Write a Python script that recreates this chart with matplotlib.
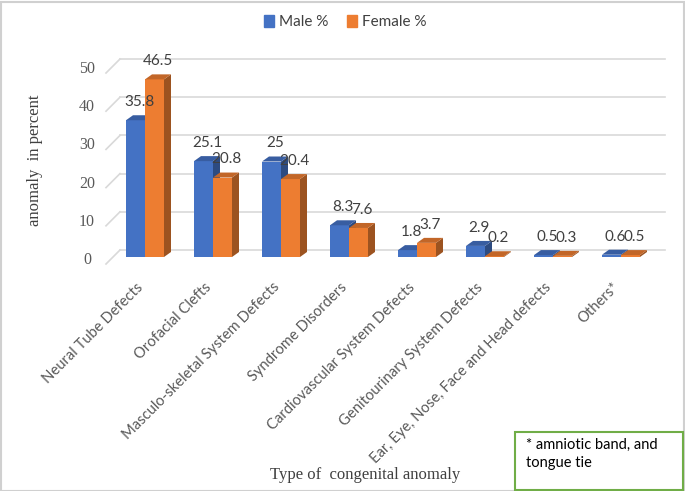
import matplotlib
matplotlib.use("Agg")
import matplotlib.pyplot as plt
import numpy as np
from matplotlib.patches import Polygon, Rectangle
import matplotlib.colors as mcolors

categories = ["Neural Tube Defects", "Orofacial Clefts", "Masculo-skeletal System Defects",
              "Syndrome Disorders", "Cardiovascular System Defects",
              "Genitourinary System Defects", "Ear, Eye, Nose, Face and Head defects", "Others*"]
male = [35.8, 25.1, 25, 8.3, 1.8, 2.9, 0.5, 0.6]
female = [46.5, 20.8, 20.4, 7.6, 3.7, 0.2, 0.3, 0.5]
male_lbl = ["35.8", "25.1", "25", "8.3", "1.8", "2.9", "0.5", "0.6"]
female_lbl = ["46.5", "20.8", "20.4", "7.6", "3.7", "0.2", "0.3", "0.5"]
yticks = [0, 10, 20, 30, 40, 50]
series_names = ["Male %", "Female %"]

W, H = 685, 491
fig = plt.figure(figsize=(W / 100, H / 100), dpi=100)
fig.patch.set_facecolor("white")

# axes geometry in pixels (from top-left)
ax_l, ax_r, ax_t, ax_b = 100, 670, 45, 285
ax = fig.add_axes([ax_l / W, (H - ax_b) / H, (ax_r - ax_l) / W, (ax_b - ax_t) / H])
x0_px, pxx = 145.0, 68.0    # category 0 centre, pixels per category
y0_px, pxy = 257.0, 3.82    # floor pixel, pixels per unit
ax.set_xlim((ax_l - x0_px) / pxx, (ax_r - x0_px) / pxx)
ax.set_ylim(-(ax_b - y0_px) / pxy, (y0_px - ax_t) / pxy)
for s in ax.spines.values():
    s.set_visible(False)
ax.set_facecolor("none")
ax.set_clip_on(False)

def dxp(p):  # pixel offset -> data x
    return p / pxx
def dyp(p):
    return p / pxy

sans = ["Lato", "DejaVu Sans"]
serif = ["Liberation Serif", "DejaVu Serif"]
grid_c = "#D9D9D9"

# gridlines (back wall) and slanted lines
xg_back = (120 - x0_px) / pxx
xg_front = (106 - x0_px) / pxx
xg_end = (665 - x0_px) / pxx
for v in yticks:
    yb = v + dyp(7)
    ax.plot([xg_back, xg_end], [yb, yb], color=grid_c, lw=1.2, zorder=0)
    ax.plot([xg_front, xg_back], [v - dyp(7), yb], color=grid_c, lw=1.2, zorder=0)
    ax.text((87 - x0_px) / pxx, v - dyp(3), str(v), ha="center", va="center",
            fontsize=11.5, family=serif, color="#595959")

x = np.arange(len(categories))
bw = 19 / pxx
ddx, ddy = dxp(7), dyp(5)
colors = ["#4472C4", "#ED7D31"]

def darker(c, f):
    r, g, b = mcolors.to_rgb(c)
    return (r * f, g * f, b * f)

for si, (vals, lbls) in enumerate([(male, male_lbl), (female, female_lbl)]):
    c = colors[si]
    xs = x - bw / 2 if si == 0 else x + bw / 2
    bars = ax.bar(xs, vals, bw, color=c, zorder=2 + si * 2, linewidth=0)
    for b, v, lb in zip(bars, vals, lbls):
        xl = b.get_x()
        xr = xl + b.get_width()
        top = Polygon([(xl, v), (xr, v), (xr + ddx, v + ddy), (xl + ddx, v + ddy)],
                      closed=True, facecolor=darker(c, 0.82), edgecolor="none", zorder=2 + si * 2)
        side = Polygon([(xr, 0), (xr + ddx, ddy), (xr + ddx, v + ddy), (xr, v)],
                       closed=True, facecolor=darker(c, 0.66), edgecolor="none", zorder=2 + si * 2)
        ax.add_patch(side)
        ax.add_patch(top)
        ax.annotate(lb, (xl + bw / 2 + ddx / 2, v), xytext=(0, 8), textcoords="offset points",
                    ha="center", va="bottom", fontsize=11, family=sans, color="#404040", zorder=10)

ax.set_yticks([])
ax.set_xticks([])
for xi, lab in zip(x, categories):
    ax.text(xi - dxp(9), -dyp(23), lab, rotation=45, ha="right", va="top",
            rotation_mode="anchor", fontsize=10.6, family=sans, color="#595959", clip_on=False)

# legend
handles = [Rectangle((0, 0), 1, 1, color=c) for c in colors]
fig.legend(handles, series_names, loc="center", bbox_to_anchor=(345 / W, 1 - 22 / H), ncol=2,
           frameon=False, prop={"family": sans, "size": 11}, handlelength=0.7, handleheight=0.8,
           handletextpad=0.3, columnspacing=1.2, labelcolor="#404040")

# axis titles
fig.text(35 / W, 1 - 160 / H, "anomaly  in percent", rotation=90, ha="center", va="center",
         fontsize=12, family=serif, color="#404040")
fig.text(365 / W, 1 - 475 / H, "Type of  congenital anomaly", ha="center", va="center",
         fontsize=12, family=serif, color="#404040")

# note box
fig.patches.append(Rectangle((515 / W, 1 - 490 / H), (683 - 515) / W, (490 - 432) / H,
                             transform=fig.transFigure, facecolor="white", edgecolor="#70AD47",
                             lw=1.5, zorder=5))
fig.text(526 / W, 1 - 438 / H, "* amniotic band, and\ntongue tie", ha="left", va="top",
         fontsize=10.5, family=sans, color="black", linespacing=1.4, zorder=6)

# outer border
fig.patches.append(Rectangle((0.5 / W, 0.5 / H), 1 - 2 / W, 1 - 2 / H, transform=fig.transFigure,
                             facecolor="none", edgecolor="#D0D0D0", lw=1.5, zorder=0))

fig.savefig("out.png", dpi=100)
